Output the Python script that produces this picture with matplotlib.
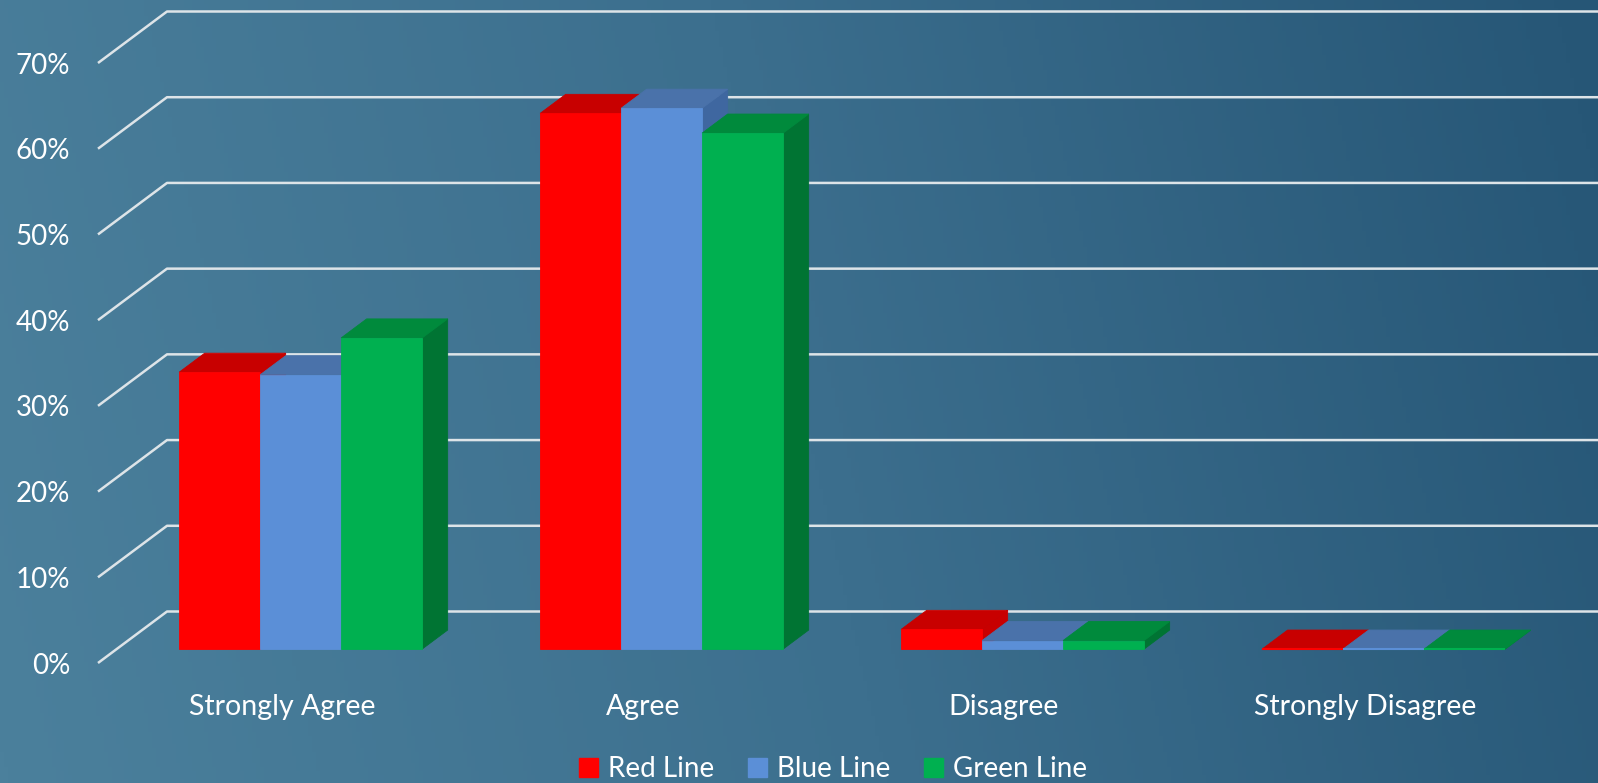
import numpy as np
import matplotlib
matplotlib.use("Agg")
import matplotlib.pyplot as plt
from matplotlib.patches import Polygon, Patch
from matplotlib.colors import LinearSegmentedColormap

# --- Data ---
categories = ["Strongly Agree", "Agree", "Disagree", "Strongly Disagree"]
series_names = ["Red Line", "Blue Line", "Green Line"]
red_vals = [32.3, 62.5, 2.3, 0.0]
blue_vals = [32.0, 63.1, 1.0, 0.0]
green_vals = [36.3, 60.2, 1.0, 0.0]
y_ticks = [0, 10, 20, 30, 40, 50, 60, 70]

# --- Styles (front, top, side) ---
front_cols = ["#FF0000", "#5B8FD7", "#00B050"]
top_cols = ["#C80000", "#4A72AA", "#008A3C"]
side_cols = ["#C80000", "#3F67A0", "#007433"]
font = "Lato"

W, H = 1598, 783
fig = plt.figure(figsize=(W / 100, H / 100), dpi=100)

# background gradient
bg = fig.add_axes([0, 0, 1, 1], zorder=-10)
cmap = LinearSegmentedColormap.from_list("bg", ["#4B809C", "#3C6F8E", "#265676"])
gx = np.linspace(0, 1, 400)
gy = np.linspace(0, 1, 200)
GX, GY = np.meshgrid(gx, gy)
bg.imshow(0.9 * GX + 0.1 * (1 - GY), cmap=cmap, aspect="auto", extent=[0, 1, 0, 1])
bg.axis("off")

# main axes: left edge = front of left wall, bottom = front floor edge
left_px, floor_px = 98, 663
ax = fig.add_axes([left_px / W, (H - floor_px) / H, (W - left_px) / W, floor_px / H])
ax.patch.set_alpha(0)
cat_px = 361.0          # pixels per category
pct_px = 600.0 / 70.0   # pixels per percent
x0_px = 282.0           # first category centre at floor front
ax.set_xlim((left_px - x0_px) / cat_px, (W - x0_px) / cat_px)
ax.set_ylim(0, floor_px / pct_px)

# depth vector for full floor depth, in data units
DX = 69.0 / cat_px
DY = 51.5 / pct_px
f_d, b_d = 0.27, 0.64   # bar front / back depth fraction
bw = 81.0 / cat_px      # bar width

xw = ax.get_xlim()[0]
xmax = ax.get_xlim()[1]
for v in y_ticks:
    ax.plot([xw, xw + DX, xmax], [v, v + DY, v + DY], color="#DDE4E8",
            lw=1.8, zorder=1, clip_on=False, solid_capstyle="butt")

all_vals = [red_vals, blue_vals, green_vals]
z = 2
for i in range(len(categories)):
    for s in range(3):
        h = all_vals[s][i]
        xl = i - 1.5 * bw + s * bw
        xr = xl + bw
        fx, fy = f_d * DX, f_d * DY
        bx, by = b_d * DX, b_d * DY
        side = [(xr + fx, fy), (xr + bx, by), (xr + bx, h + by), (xr + fx, h + fy)]
        top = [(xl + fx, h + fy), (xr + fx, h + fy), (xr + bx, h + by), (xl + bx, h + by)]
        front = [(xl + fx, fy), (xr + fx, fy), (xr + fx, h + fy), (xl + fx, h + fy)]
        ax.add_patch(Polygon(side, closed=True, fc=side_cols[s], ec=side_cols[s], lw=0.6, zorder=z))
        ax.add_patch(Polygon(top, closed=True, fc=top_cols[s], ec=top_cols[s], lw=0.6, zorder=z + 1))
        ax.add_patch(Polygon(front, closed=True, fc=front_cols[s], ec=front_cols[s],
                             lw=1.5 if h == 0 else 0.6, zorder=z + 2))
        z += 3

ax.set_yticks(y_ticks)
ax.set_yticklabels([f"{v}%" for v in y_ticks])
ax.set_xticks(range(len(categories)))
ax.set_xticklabels(categories)
ax.tick_params(axis="y", length=0, pad=20, labelsize=20, labelcolor="white")
ax.tick_params(axis="x", length=0, pad=22, labelsize=20.5, labelcolor="white")
for lab in ax.get_xticklabels() + ax.get_yticklabels():
    lab.set_fontfamily(font)
for sp in ax.spines.values():
    sp.set_visible(False)

handles = [Patch(fc=c, ec=c) for c in front_cols]
leg = fig.legend(handles, series_names, loc="center", bbox_to_anchor=(833 / W, 14 / H),
                 ncol=3, frameon=False, handlelength=0.7, handleheight=0.7,
                 handletextpad=0.35, columnspacing=1.2,
                 prop={"family": font, "size": 20})
for t in leg.get_texts():
    t.set_color("white")

fig.savefig("out.png", dpi=100)
